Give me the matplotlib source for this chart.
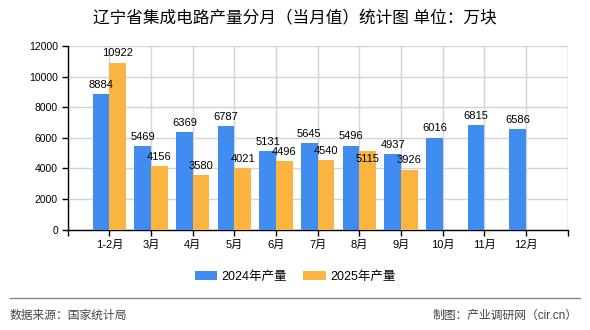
import matplotlib
matplotlib.use("Agg")
import matplotlib.pyplot as plt
from matplotlib.lines import Line2D
from matplotlib.patches import Patch
import numpy as np

plt.rcParams['font.family'] = ['Liberation Sans', 'Noto Sans CJK SC', 'DejaVu Sans']

title = "辽宁省集成电路产量分月（当月值）统计图 单位：万块"
categories = ["1-2月", "3月", "4月", "5月", "6月", "7月", "8月", "9月", "10月", "11月", "12月"]
series_2024 = [8884, 5469, 6369, 6787, 5131, 5645, 5496, 4937, 6016, 6815, 6586]
series_2025 = [10922, 4156, 3580, 4021, 4496, 4540, 5115, 3926]
series_names = ["2024年产量", "2025年产量"]
yticks = [0, 2000, 4000, 6000, 8000, 10000, 12000]
source_text = "数据来源：国家统计局"
credit_text = "制图：产业调研网（cir.cn）"

c1 = "#418CF0"
c2 = "#FCB440"

fig = plt.figure(figsize=(5.9, 3.3), dpi=100, facecolor="white")
ax = fig.add_axes([67.7/590, 1-229.7/330, 500/590, (229.7-46)/330])
ax.set_facecolor("white")

x = np.arange(len(categories))
w = 0.4
x1 = x
x2 = np.arange(len(series_2025))
b1 = ax.bar(x1 - w/2, series_2024, width=w, color=c1, zorder=3)
b2 = ax.bar(x2 + w/2, series_2025, width=w, color=c2, zorder=3)

for rect, v in zip(b1, series_2024):
    ax.annotate(str(v), (rect.get_x() + rect.get_width()/2, v), xytext=(0, 3),
                textcoords="offset points", ha="center", va="bottom", fontsize=8, zorder=5)
for i, (rect, v) in enumerate(zip(b2, series_2025)):
    crowded = abs(series_2024[i] - v) < 500
    ax.annotate(str(v), (rect.get_x() + rect.get_width()/2, v),
                xytext=(0, -2) if crowded else (0, 3),
                textcoords="offset points", ha="center",
                va="top" if crowded else "bottom", fontsize=8, zorder=5)

ax.set_xlim(-1, len(categories))
ax.set_ylim(0, 12000)
ax.set_yticks(yticks)
ax.set_yticklabels([str(t) for t in yticks], fontsize=7.5)
tick_pos = list(range(-1, len(categories) + 1))
ax.set_xticks(tick_pos)
ax.set_xticklabels([""] + categories + [""], fontsize=8)

ax.grid(True, color="#d4d4d4", linewidth=1, zorder=0)
ax.axvline(len(categories), color="#d4d4d4", linewidth=1, zorder=0)
for s in ["top", "right"]:
    ax.spines[s].set_visible(False)
for s in ["left", "bottom"]:
    ax.spines[s].set_color("black")
    ax.spines[s].set_linewidth(1)
ax.tick_params(axis="both", direction="out", length=4, width=1, color="black", pad=3)

fig.text(0.5, 1-18/330, title, ha="center", va="center", fontsize=12)

handles = [Patch(facecolor=c1, edgecolor="none"), Patch(facecolor=c2, edgecolor="none")]
fig.legend(handles, series_names, loc="center", bbox_to_anchor=(0.5, 1-276.7/330), ncol=2,
           frameon=False, fontsize=9, handlelength=1.8, handleheight=0.7,
           handletextpad=0.35, columnspacing=1.3)

fig.add_artist(Line2D([10/590, 580/590], [1-298/330, 1-298/330], transform=fig.transFigure,
                      color="#888888", linewidth=1))
fig.text(10/590, 1-316/330, source_text, ha="left", va="center", fontsize=8.5, color="#444444")
fig.text(578/590, 1-316/330, credit_text, ha="right", va="center", fontsize=8.5, color="#444444")

fig.savefig("out.png", dpi=100, facecolor="white")
